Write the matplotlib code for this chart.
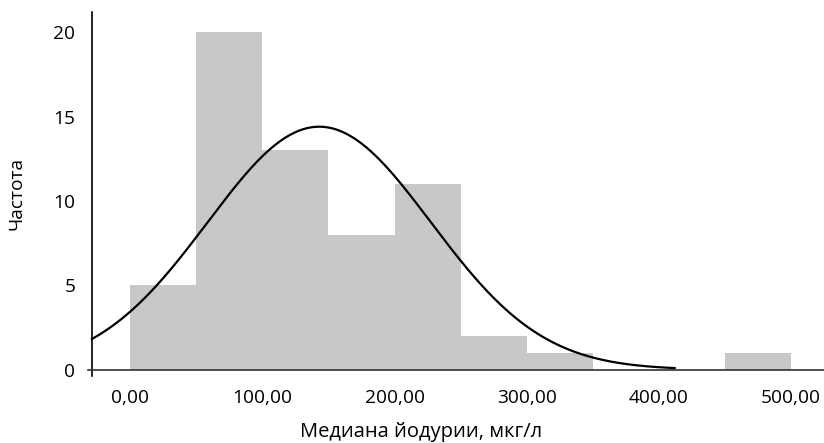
import numpy as np
import matplotlib
matplotlib.use("Agg")
import matplotlib.pyplot as plt

# Гистограмма медианы йодурии
bin_edges = [0, 50, 100, 150, 200, 250, 300, 350, 400, 450]
counts = [5, 20, 13, 8, 11, 2, 1, 0, 0, 1]
bin_width = 50

# параметры нормальной кривой
mean_val = 143.0
sd_val = 84.5
n_total = sum(counts)
curve_range = (-29, 412)

x_ticks = [0, 100, 200, 300, 400, 500]
x_tick_labels = ["0,00", "100,00", "200,00", "300,00", "400,00", "500,00"]
y_ticks = [0, 5, 10, 15, 20]

plt.rcParams['font.family'] = ['Open Sans', 'DejaVu Sans']

fig = plt.figure(figsize=(8.24, 4.43), dpi=100)
ax = fig.add_axes([88 / 824, 1 - 376 / 443, (824 - 88) / 824, (376 - 12) / 443])

ax.bar(bin_edges, counts, width=bin_width, align='edge', color='#c8c8c8',
       edgecolor='none', zorder=1)

xs = np.linspace(curve_range[0], curve_range[1], 400)
ys = n_total * bin_width / (sd_val * np.sqrt(2 * np.pi)) * np.exp(-0.5 * ((xs - mean_val) / sd_val) ** 2)
ax.plot(xs, ys, color='black', linewidth=1.6, zorder=3)

ax.set_xlim(-32, 525)
ax.set_ylim(-0.38, 21.2)

ax.spines['top'].set_visible(False)
ax.spines['right'].set_visible(False)
ax.spines['left'].set_position(('data', -29))
ax.spines['bottom'].set_position(('data', 0))
ax.spines['left'].set_linewidth(1.2)
ax.spines['bottom'].set_linewidth(1.2)
ax.spines['bottom'].set_color('#333333')

ax.set_xticks(x_ticks)
ax.set_xticklabels(x_tick_labels)
ax.set_yticks(y_ticks)
ax.tick_params(axis='x', length=0, pad=14, labelsize=13.8)
ax.tick_params(axis='y', length=0, pad=12, labelsize=13.8)

ax.set_xlabel('Медиана йодурии, мкг/л', fontsize=14.5)
ax.xaxis.set_label_coords(0.4525, -0.125)
ax.set_ylabel('Частота', fontsize=13.8, labelpad=20)

plt.savefig('out.png', dpi=100)
